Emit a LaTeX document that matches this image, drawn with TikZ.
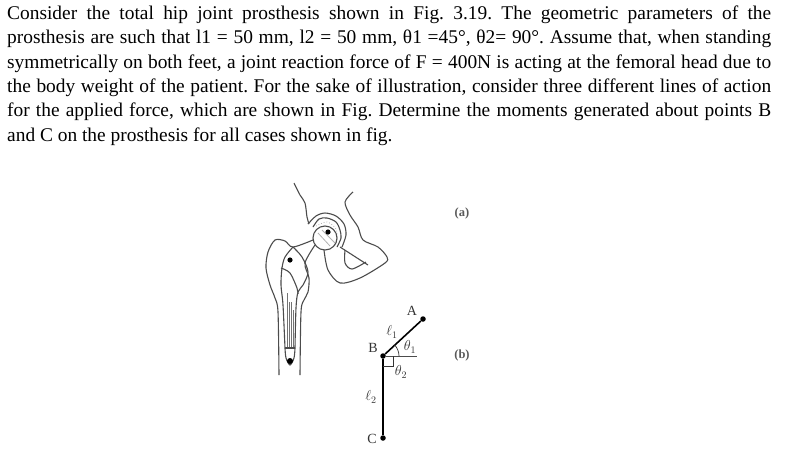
\documentclass[tikz,border=0pt]{standalone}
\usepackage{fontspec}
\setmainfont{Liberation Serif}
\usepackage{amsmath}
\usepackage{pgf,tikz}
\usetikzlibrary{arrows}

\tikzset{
   textline/.style={anchor=base west,inner sep=0pt,font=\fontsize{19.4}{24}\selectfont\frenchspacing},
   bone/.style={line width=1.1pt,black!70},
   hatchline/.style={line width=0.8pt,black!30},
   pin/.style={circle,fill=black,inner sep=0pt,minimum size=5.5pt},
   marklabel/.style={inner sep=0pt,black!80,font=\fontsize{14}{16}\selectfont},
   caplabel/.style={inner sep=0pt,black!65,font=\fontsize{12.5}{14}\bfseries\selectfont}
}

\begin{document}
\begin{tikzpicture}[x=1pt,y=-1pt]
   \useasboundingbox (0,0) rectangle (812,448);
   % problem text
   \node[textline] (line1) at (7,19) {\makebox[764pt][s]{Consider the total hip joint prosthesis shown in Fig. 3.19. The geometric parameters of the}};
   \node[textline] (line2) at (7,43) {\makebox[764pt][s]{prosthesis are such that l1 = 50 mm, l2 = 50 mm, θ1 =45°, θ2= 90°. Assume that, when standing}};
   \node[textline] (line3) at (7,68) {\makebox[764pt][s]{symmetrically on both feet, a joint reaction force of F = 400N is acting at the femoral head due to}};
   \node[textline] (line4) at (7,92) {\makebox[764pt][s]{the body weight of the patient. For the sake of illustration, consider three different lines of action}};
   \node[textline] (line5) at (7,116) {\makebox[764pt][s]{for the applied force, which are shown in Fig. Determine the moments generated about points B}};
   \node[textline] (line6) at (7,141) {and C on the prosthesis for all cases shown in fig.};

   % pelvis
   \draw[bone] plot[smooth] coordinates {(294,183) (300,195) (305,203) (307,217) (309,224)};
   \draw[bone] plot[smooth] coordinates {(353,192) (345,202) (350,215) (358,227) (363,240) (378,247) (387,257) (385,263) (360,278) (340,283) (328,270) (324,250)};
   \draw[bone] (340,247) -- (368,265);
   \draw[bone] plot[smooth] coordinates {(345,250) (345,263) (352,269) (366,262)};
   % cup and head
   \draw[bone] plot[smooth] coordinates {(308,224) (316,216) (325,213) (336,216) (344,224) (346,235) (342,247)};
   \draw[bone] plot[smooth] coordinates {(313,227) (319,219) (327,218) (336,222) (340,230) (341,238) (337,247)};
   \draw[hatchline,dotted] plot[smooth] coordinates {(316,226) (327,222) (336,229) (337,239) (335,246)};
   \draw[hatchline] (318,233) -- (330,246);
   \draw[hatchline] (322,230) -- (335,243);
   \draw[bone] (325,238) circle (12);
   \fill[black] (328,232) circle (2.6);

   % femur
   \draw[bone] plot[smooth] coordinates {(313,240) (293,247) (285,241) (275,240) (268,252) (266,268) (270,285) (275,298) (278,312) (279,375)};
   \draw[bone] plot[smooth] coordinates {(315,245) (305,263) (309,278) (308,292) (304,300) (301,312) (300,375)};
   \draw[bone] plot[smooth] coordinates {(293,247) (285,257) (282,268) (281,285) (283,305) (285,348)};
   \draw[bone] plot[smooth] coordinates {(293,247) (302,257) (308,272) (303,285) (298,292) (296,308) (295,348)};
   \draw[bone] plot[smooth] coordinates {(281,268) (290,273) (297,288) (298,294)};
   \fill[black] (290,260) circle (2.6);
   % stem
   \draw[hatchline,line width=1pt,black!55] (287,293) -- (287,348);
   \draw[hatchline,line width=1pt,black!55] (289,302) -- (289,348);
   \draw[hatchline,line width=1pt,black!55] (291,302) -- (291,348);
   \draw[hatchline,line width=1pt,black!55] (293,310) -- (293,348);
   \draw[bone] plot[smooth] coordinates {(285,348) (286,358) (290,365) (294,358) (295,348)};
   \draw[bone] (285,348) -- (295,348);
   \fill[black] (290,361) circle (3);

   % link diagram
   \node[pin] (A) at (423,319) {};
   \node[pin] (B) at (383,356) {};
   \node[pin] (C) at (383,438) {};
   \coordinate (Bh) at (417,356);
   \coordinate (Ba) at (399,356);
   \coordinate (Bb) at (393,356);
   \coordinate (Bc) at (393,366);
   \coordinate (Bd) at (383,366);
   \draw[line width=1.6pt] (B) -- (A);
   \draw[line width=2.2pt] (B) -- (C);
   \draw[line width=0.7pt,black!70] (B) -- (Bh);
   \draw[line width=0.7pt,black!80] (Bb) -- (Bc) -- (Bd);
   \draw[line width=0.7pt,black!80] (Ba) arc (0:-45:16);
   \node[marklabel] (Alab) at (412,311) {A};
   \node[marklabel] (Blab) at (373,348) {B};
   \node[marklabel] (Clab) at (372,439) {C};
   \node[marklabel] (l1lab) at (392,332) {$\ell_1$};
   \node[marklabel] (l2lab) at (371,397) {$\ell_2$};
   \node[marklabel] (t1lab) at (410,347) {$\theta_1$};
   \node[marklabel] (t2lab) at (401,372) {$\theta_2$};

   \node[caplabel] (capa) at (462,213) {(a)};
   \node[caplabel] (capb) at (462,355) {(b)};
\end{tikzpicture}
\end{document}
